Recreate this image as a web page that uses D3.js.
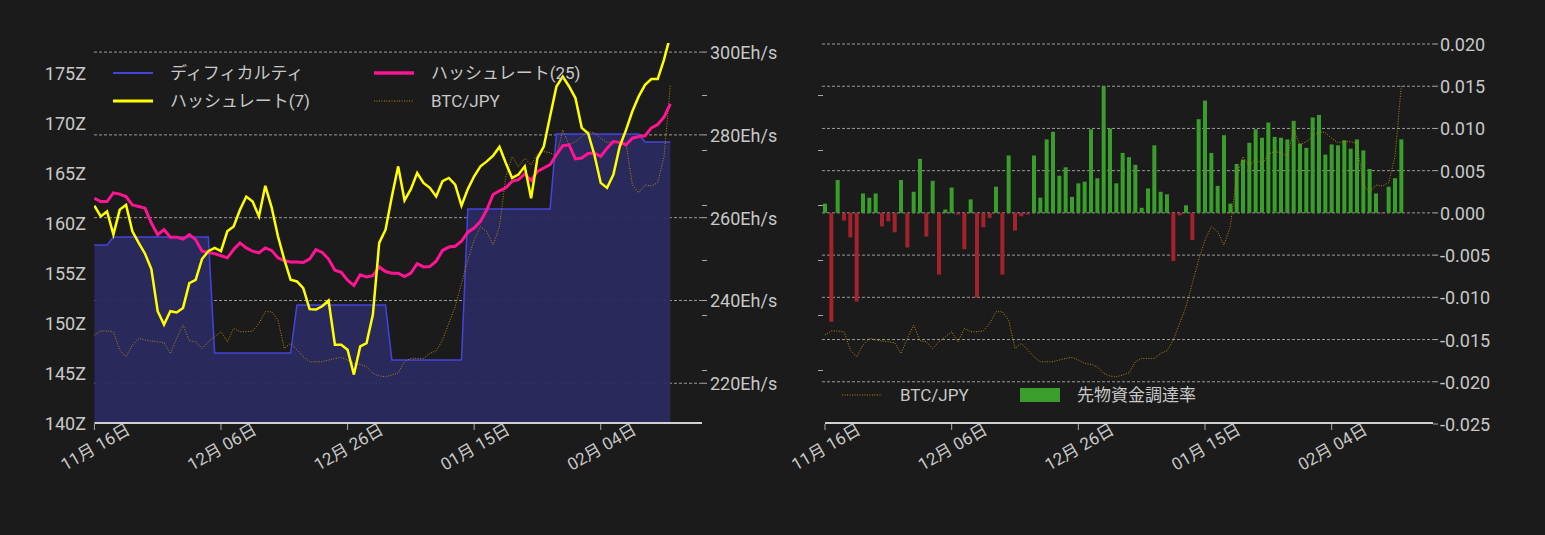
<!DOCTYPE html>
<html><head><meta charset="utf-8">
<script src="https://cdn.jsdelivr.net/npm/d3@7"></script>
<style>body{margin:0;background:#1b1b1b}svg{display:block}text{font-family:Roboto,"Noto Sans CJK JP",sans-serif}</style>
</head><body><svg id="c" width="1545" height="535"></svg>
<script>
const startDate = "2023-11-16";
const tickDates = ["2023-11-16","2023-12-06","2023-12-26","2024-01-15","2024-02-04"];
const difficulty = [157.8,157.8,157.8, ...Array(16).fill(158.6), ...Array(13).fill(147.0), ...Array(15).fill(151.8), ...Array(12).fill(146.3), ...Array(14).fill(161.4), ...Array(14).fill(168.9), ...Array(5).fill(168.1)];
const hash7 = [262.9,260.3,261.5,255.9,261.9,263.1,256.7,253.9,251.3,247.6,237.4,234.2,237.4,237.1,238.2,244.2,245.0,250.0,251.9,252.7,251.9,256.7,257.9,261.9,265.1,263.9,260.3,267.7,262.5,255.5,249.9,245.0,244.6,243.0,237.9,237.8,238.6,240.0,229.3,229.3,228.1,222.1,228.9,229.7,236.6,253.9,257.1,265.1,272.4,264.2,266.9,270.8,268.4,267.2,265.1,268.8,269.6,268.0,262.9,266.9,270.0,272.4,273.6,275.0,277.1,273.2,269.6,270.4,272.4,264.7,274.4,277.2,284.5,291.7,294.1,291.7,288.9,281.7,280.4,275.2,268.4,267.2,270.4,277.2,281.2,285.7,289.3,292.1,293.5,293.5,298.2,304.0];
const hash25 = [264.7,263.9,263.9,266.0,265.7,265.1,263.1,262.7,262.3,258.7,255.9,257.1,255.3,255.3,254.8,255.9,254.7,251.9,251.6,251.3,250.8,250.3,252.3,253.9,252.7,251.9,251.5,252.7,252.1,250.3,249.6,249.3,249.3,249.2,250.0,252.3,251.6,250.0,247.3,246.8,244.9,243.6,246.2,245.7,246.0,248.1,247.0,246.6,246.6,245.8,246.6,248.9,248.1,248.2,249.5,252.1,252.9,253.1,254.3,256.5,257.5,259.1,261.9,265.6,266.5,267.2,268.8,269.2,270.6,269.0,271.2,272.0,272.8,275.2,277.4,277.6,274.2,274.4,275.5,275.6,274.8,276.8,278.4,278.2,277.6,279.2,279.6,279.8,281.7,282.5,284.3,287.5];
const btc = [590.4,593.6,593.6,593.0,578.4,573.0,582.4,587.7,586.4,585.6,585.0,584.2,575.7,587.7,598.4,585.8,585.0,579.7,585.0,589.0,593.0,585.0,595.7,593.0,593.0,593.6,599.7,609.0,609.0,602.4,579.7,583.7,578.4,573.0,569.0,569.0,569.0,570.4,571.7,572.5,570.4,567.7,566.9,565.0,559.7,557.6,557.0,558.4,560.2,569.0,571.7,571.7,571.7,575.7,577.8,586.4,599.7,613.0,631.7,650.4,666.4,677.0,673.1,662.4,677.0,717.1,733.1,725.1,731.7,726.4,735.2,737.1,736.3,733.1,754.4,742.4,745.1,749.1,753.1,752.3,747.7,744.3,745.1,745.1,743.7,710.4,704.3,710.4,709.6,712.3,733.1,790.4];
const funding = [0.0011,-0.0129,0.0039,-0.0009,-0.0029,-0.0105,0.0023,0.0018,0.0023,-0.0016,-0.0010,-0.0023,0.0039,-0.0041,0.0025,0.0064,-0.0028,0.0038,-0.0073,0.0004,0.0030,-0.0002,-0.0043,0.0016,-0.0100,-0.0017,-0.0006,0.0031,-0.0073,0.0068,-0.0021,-0.0004,-0.0002,0.0068,0.0018,0.0087,0.0096,0.0044,0.0054,0.0019,0.0035,0.0037,0.0099,0.0041,0.0150,0.0100,0.0035,0.0071,0.0066,0.0057,0.0006,0.0029,0.0080,0.0025,0.0022,-0.0057,-0.0003,0.0009,-0.0032,0.0111,0.0133,0.0071,0.0032,0.0092,0.0011,0.0058,0.0063,0.0083,0.0099,0.0089,0.0107,0.0090,0.0089,0.0087,0.0109,0.0082,0.0077,0.0113,0.0116,0.0069,0.0081,0.0080,0.0086,0.0076,0.0087,0.0074,0.0052,0.0023,-0.0001,0.0031,0.0041,0.0087];
const leftTicks = [140,145,150,155,160,165,170,175];
const hashTicks = [220,240,260,280,300];
const btcTicks = [562,606,650,694,738,782];
const fundTicks = [-0.025,-0.02,-0.015,-0.01,-0.005,0,0.005,0.01,0.015,0.02];

const svg = d3.select("#c");
const parse = d3.utcParse("%Y-%m-%d");
const d0 = parse(startDate);
const dates = hash7.map((_, i) => d3.utcDay.offset(d0, i));
const dEnd = d3.utcDay.offset(d0, 96);
const txt = "#c8c8c8", grid = "#bdbdbd";
const fmtX = d => d3.utcFormat("%m")(d) + "月 " + d3.utcFormat("%d")(d) + "日";

function xAxis(g, x) {
  g.append("line").attr("x1", x.range()[0]).attr("x2", x.range()[1]).attr("y1", 423).attr("y2", 423).attr("stroke", "#d0d0d0").attr("stroke-width", 2);
  tickDates.forEach(s => {
    const t = parse(s), px = x(t);
    g.append("line").attr("x1", px).attr("x2", px).attr("y1", 424).attr("y2", 430).attr("stroke", "#aaa");
    g.append("text").attr("transform", `translate(${px + 4},${452}) rotate(-30)`).attr("text-anchor", "middle").attr("fill", txt).attr("font-size", 17).text(fmtX(t));
  });
}

// ---------- LEFT CHART ----------
const L = svg.append("g");
const xL = d3.scaleUtc().domain([d0, dEnd]).range([94.4, 702]);
const yZ = d3.scaleLinear().domain([140, 178]).range([423, 43]);
const yH = d3.scaleLinear().domain([210.4, 302.2]).range([423, 43]);
const yB = d3.scaleLinear().domain([520, 824]).range([423, 43]);
L.append("clipPath").attr("id", "clipL").append("rect").attr("x", 94).attr("y", 43).attr("width", 610).attr("height", 380);
hashTicks.forEach(v => L.append("line").attr("x1", 94).attr("x2", 702).attr("y1", yH(v)).attr("y2", yH(v)).attr("stroke", grid).attr("stroke-dasharray", "3,2").attr("stroke-width", 0.8));
const lg = L.append("g").attr("clip-path", "url(#clipL)");
lg.append("path").datum(difficulty).attr("fill", "#2b2a60").attr("fill-opacity", 0.95)
  .attr("d", d3.area().x((d, i) => xL(dates[i])).y0(423).y1(d => yZ(d)));
lg.append("path").datum(difficulty).attr("fill", "none").attr("stroke", "#4444dd").attr("stroke-width", 1.5)
  .attr("d", d3.line().x((d, i) => xL(dates[i])).y(d => yZ(d)));
lg.append("path").datum(btc).attr("fill", "none").attr("stroke", "#b8860b").attr("stroke-width", 1).attr("stroke-dasharray", "1,1.5")
  .attr("d", d3.line().x((d, i) => xL(dates[i])).y(d => yB(d)));
lg.append("path").datum(hash25).attr("fill", "none").attr("stroke", "#ff1493").attr("stroke-width", 3)
  .attr("d", d3.line().x((d, i) => xL(dates[i])).y(d => yH(d)));
lg.append("path").datum(hash7).attr("fill", "none").attr("stroke", "#ffff00").attr("stroke-width", 2.5)
  .attr("d", d3.line().x((d, i) => xL(dates[i])).y(d => yH(d)));
leftTicks.forEach(v => L.append("text").attr("x", 86).attr("y", yZ(v) + 7).attr("text-anchor", "end").attr("fill", txt).attr("font-size", 18).text(v + "Z"));
hashTicks.forEach(v => {
  L.append("line").attr("x1", 702).attr("x2", 707).attr("y1", yH(v)).attr("y2", yH(v)).attr("stroke", "#aaa");
  L.append("text").attr("x", 710).attr("y", yH(v) + 7).attr("fill", txt).attr("font-size", 18).text(v + "Eh/s");
});
btcTicks.forEach(v => L.append("line").attr("x1", 702).attr("x2", 707).attr("y1", yB(v)).attr("y2", yB(v)).attr("stroke", "#aaa"));
xAxis(L, xL);
// legend
const legL = [
  {x: 113, y: 73, c: "#4444dd", w: 2, dash: null, t: "ディフィカルティ"},
  {x: 113, y: 101, c: "#ffff00", w: 3, dash: null, t: "ハッシュレート(7)"},
  {x: 374, y: 73, c: "#ff1493", w: 3.5, dash: null, t: "ハッシュレート(25)"},
  {x: 374, y: 101, c: "#b8860b", w: 1, dash: "1,1.5", t: "BTC/JPY"}
];
legL.forEach(l => {
  L.append("line").attr("x1", l.x).attr("x2", l.x + 40).attr("y1", l.y).attr("y2", l.y).attr("stroke", l.c).attr("stroke-width", l.w).attr("stroke-dasharray", l.dash);
  L.append("text").attr("x", l.x + 57).attr("y", l.y + 6).attr("fill", txt).attr("font-size", 17).text(l.t);
});

// ---------- RIGHT CHART ----------
const R = svg.append("g");
const xR = d3.scaleUtc().domain([d0, dEnd]).range([825, 1433]);
const yF = d3.scaleLinear().domain([-0.025, 0.02]).range([424, 44]);
const yB2 = d3.scaleLinear().domain([520, 824]).range([423, 43]);
fundTicks.forEach(v => {
  if (v > -0.025) R.append("line").attr("x1", 822).attr("x2", 1433).attr("y1", yF(v)).attr("y2", yF(v)).attr("stroke", grid).attr("stroke-dasharray", "3,2").attr("stroke-width", 0.8);
  R.append("line").attr("x1", 1433).attr("x2", 1438).attr("y1", yF(v)).attr("y2", yF(v)).attr("stroke", "#aaa");
  R.append("text").attr("x", 1440).attr("y", yF(v) + 7).attr("fill", txt).attr("font-size", 18).text(d3.format(".3f")(v).replace("−", "-"));
});
btcTicks.forEach(v => R.append("line").attr("x1", 818).attr("x2", 823).attr("y1", yB2(v)).attr("y2", yB2(v)).attr("stroke", "#aaa"));
R.selectAll("rect.bar").data(funding).enter().append("rect")
  .attr("x", (d, i) => xR(dates[i]) - 2).attr("width", 4)
  .attr("y", d => yF(Math.max(0, d))).attr("height", d => Math.abs(yF(d) - yF(0)))
  .attr("fill", d => d >= 0 ? "#3a9e2a" : "#a3222b");
R.append("path").datum(btc).attr("fill", "none").attr("stroke", "#b8860b").attr("stroke-width", 1).attr("stroke-dasharray", "1,1.5")
  .attr("d", d3.line().x((d, i) => xR(dates[i])).y(d => yB2(d)));
xAxis(R, xR);
R.append("line").attr("x1", 842).attr("x2", 882).attr("y1", 395).attr("y2", 395).attr("stroke", "#b8860b").attr("stroke-dasharray", "1,1.5");
R.append("text").attr("x", 900).attr("y", 401).attr("fill", txt).attr("font-size", 17).text("BTC/JPY");
R.append("rect").attr("x", 1020).attr("y", 388).attr("width", 40).attr("height", 14).attr("fill", "#3a9e2a");
R.append("text").attr("x", 1077).attr("y", 401).attr("fill", txt).attr("font-size", 17).text("先物資金調達率");
</script></body></html>
